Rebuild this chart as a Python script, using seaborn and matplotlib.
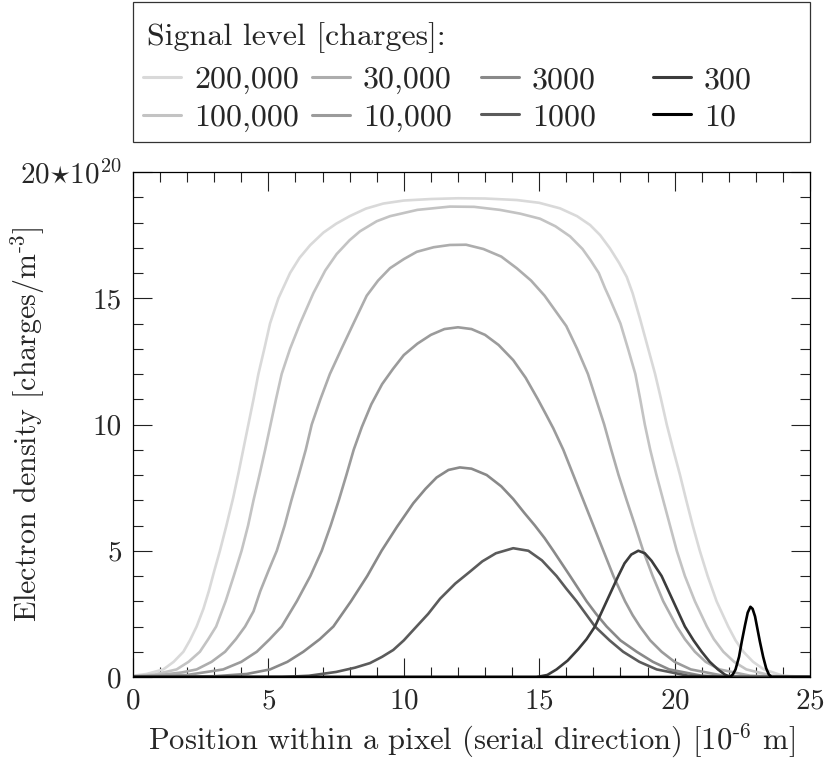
import pandas as pd
import matplotlib.pyplot as plt
import seaborn as sns
from matplotlib.patches import Rectangle
from matplotlib.ticker import MultipleLocator

# signal levels (legend order) and their grey shades
levels = ["200,000", "100,000", "30,000", "10,000", "3000", "1000", "300", "10"]
colors = ["#d9d9d9", "#c3c3c3", "#adadad", "#9b9b9b", "#898989", "#5b5b5b", "#3c3c3c", "#000000"]

# position [1e-6 m] and electron density [1e20 charges/m^3]
x_200k = [0, 0.5, 1.12, 1.5, 1.86, 2.1, 2.35, 2.6, 2.8, 3.0, 3.21, 3.45, 3.7, 3.9, 4.07, 4.26, 4.45,
          4.63, 4.85, 5.06, 5.37, 5.8, 6.15, 6.54, 7.03, 7.5, 8.0, 8.6, 9.24, 10.0, 11.0, 12.0, 13.0,
          14.17, 15.0, 15.77, 16.4, 16.88, 17.25, 17.61, 17.95, 18.23, 18.45, 18.72, 19.0, 19.28, 19.5,
          19.71, 19.95, 20.2, 20.43, 20.67, 20.93, 21.22, 21.55, 21.98, 22.25, 22.54, 22.9, 23.3, 24.0, 25.0]
y_200k = [0.05, 0.12, 0.3, 0.6, 1.0, 1.45, 2.0, 2.7, 3.4, 4.2, 5.0, 6.0, 7.1, 8.1, 9.0, 10.0, 11.0,
          12.0, 13.0, 14.0, 15.0, 16.0, 16.6, 17.1, 17.6, 17.95, 18.25, 18.55, 18.75, 18.87, 18.93, 18.96, 18.95,
          18.89, 18.78, 18.56, 18.25, 17.9, 17.5, 16.98, 16.4, 15.85, 15.2, 14.2, 13.1, 12.0, 11.0,
          10.0, 9.0, 8.0, 7.0, 6.0, 5.0, 4.0, 3.0, 2.0, 1.45, 1.0, 0.6, 0.3, 0.05, 0.0]

x_100k = [0, 0.8, 1.61, 2.05, 2.47, 2.78, 3.07, 3.42, 3.72, 4.01, 4.25, 4.45, 4.67, 4.88, 5.08, 5.28,
          5.49, 5.8, 6.17, 6.66, 7.1, 7.52, 8.0, 8.38, 9.0, 9.49, 10.5, 11.7, 12.6, 13.55, 14.3, 15.03,
          15.6, 16.14, 16.6, 16.9, 17.2, 17.43, 17.6, 17.8, 18.0, 18.28, 18.55, 18.73, 18.9, 19.1, 19.33,
          19.58, 19.83, 20.08, 20.38, 20.75, 21.19, 21.45, 21.8, 22.2, 22.65, 23.6, 25.0]
y_100k = [0.04, 0.1, 0.3, 0.6, 1.0, 1.5, 2.0, 3.0, 4.0, 5.0, 6.0, 7.0, 8.0, 9.0, 10.0, 11.0,
          12.0, 13.0, 14.0, 15.2, 16.1, 16.75, 17.3, 17.65, 18.05, 18.25, 18.5, 18.63, 18.62, 18.5, 18.35, 18.15,
          17.85, 17.45, 16.95, 16.5, 16.0, 15.4, 15.0, 14.5, 14.0, 13.0, 12.0, 11.0, 10.0, 9.0, 8.0,
          7.0, 6.0, 5.0, 4.0, 3.0, 2.0, 1.5, 1.0, 0.6, 0.3, 0.05, 0.0]

x_30k = [0, 1.0, 1.8, 2.35, 2.9, 3.4, 3.8, 4.14, 4.45, 4.7, 5.0, 5.31, 5.6, 5.85, 6.12, 6.38, 6.6,
         6.92, 7.27, 7.7, 8.14, 8.63, 9.05, 9.49, 10.0, 10.48, 11.1, 11.7, 12.3, 12.94, 13.6, 14.17,
         14.7, 15.2, 15.6, 16.0, 16.4, 16.8, 17.1, 17.4, 17.66, 17.93, 18.23, 18.54, 18.84, 19.19,
         19.58, 20.08, 20.38, 20.75, 21.15, 21.66, 22.8, 25.0]
y_30k = [0.02, 0.08, 0.18, 0.3, 0.6, 1.0, 1.5, 2.0, 2.6, 3.4, 4.2, 5.0, 6.0, 7.0, 8.0, 9.0, 10.0,
         11.0, 12.0, 13.0, 14.0, 15.1, 15.7, 16.19, 16.55, 16.84, 17.02, 17.11, 17.12, 16.95, 16.65, 16.19,
         15.7, 15.1, 14.5, 13.9, 13.0, 12.0, 11.0, 10.0, 9.0, 8.0, 7.0, 6.0, 5.0, 4.0,
         3.0, 2.0, 1.5, 1.0, 0.6, 0.3, 0.05, 0.0]

x_10k = [0, 2.0, 3.33, 4.0, 4.57, 5.05, 5.49, 6.05, 6.55, 6.97, 7.3, 7.6, 7.88, 8.15, 8.45, 8.8,
         9.2, 9.6, 10.0, 10.5, 11.0, 11.5, 12.0, 12.5, 13.0, 13.5, 14.04, 14.5, 14.95, 15.25, 15.52, 15.89,
         16.26, 16.63, 17.0, 17.37, 17.74, 18.17, 18.45, 18.72, 19.1, 19.52, 20.0, 20.6, 21.8, 23.5, 25.0]
y_10k = [0.01, 0.08, 0.3, 0.6, 1.0, 1.5, 2.0, 3.0, 4.0, 5.0, 6.0, 7.0, 8.0, 9.0, 9.9, 10.8,
         11.6, 12.2, 12.75, 13.2, 13.55, 13.78, 13.85, 13.78, 13.55, 13.15, 12.55, 11.85, 11.0, 10.4, 9.85, 9.0,
         8.0, 7.0, 6.0, 5.0, 4.0, 3.0, 2.45, 2.0, 1.45, 1.0, 0.6, 0.3, 0.05, 0.0, 0.0]

x_3000 = [0, 3.0, 4.2, 5.06, 5.7, 6.29, 6.9, 7.4, 8.05, 8.65, 9.18, 9.75, 10.35, 10.8, 11.21, 11.65,
          12.07, 12.5, 13.06, 13.6, 14.04, 14.45, 14.84, 15.2, 15.52, 16.14, 16.75, 17.1, 17.49, 18.0,
          18.6, 19.2, 19.8, 21.0, 22.5, 25.0]
y_3000 = [0.0, 0.03, 0.12, 0.3, 0.6, 1.0, 1.5, 2.0, 3.0, 4.0, 5.0, 5.95, 6.88, 7.45, 7.9, 8.2,
          8.3, 8.25, 8.0, 7.55, 7.05, 6.5, 6.0, 5.5, 5.0, 4.0, 3.0, 2.5, 2.0, 1.45,
          1.0, 0.6, 0.3, 0.05, 0.0, 0.0]

x_1000 = [0, 5.5, 6.5, 7.5, 8.2, 8.75, 9.2, 9.61, 10.0, 10.35, 10.9, 11.34, 11.9, 12.44, 12.9, 13.4,
          14.04, 14.6, 15.1, 15.64, 16.0, 16.38, 17.06, 17.6, 18.1, 18.7, 19.34, 20.5, 22.0, 25.0]
y_1000 = [0.0, 0.0, 0.05, 0.2, 0.37, 0.55, 0.8, 1.07, 1.45, 1.86, 2.5, 3.1, 3.7, 4.17, 4.58, 4.9,
          5.1, 5.0, 4.62, 4.0, 3.5, 3.0, 2.0, 1.45, 1.0, 0.6, 0.3, 0.05, 0.0, 0.0]

x_300 = [0, 14.9, 15.3, 15.64, 16.05, 16.44, 16.75, 17.06, 17.49, 17.92, 18.15, 18.4, 18.66, 18.9,
         19.15, 19.52, 19.95, 20.38, 20.7, 21.0, 21.3, 21.6, 21.85, 22.05, 25.0]
y_300 = [0.0, 0.0, 0.08, 0.3, 0.65, 1.1, 1.5, 2.0, 3.0, 4.0, 4.5, 4.85, 5.0, 4.9,
         4.6, 4.0, 3.0, 2.0, 1.45, 1.0, 0.6, 0.3, 0.1, 0.0, 0.0]

x_10 = [0, 22.05, 22.15, 22.25, 22.38, 22.48, 22.6, 22.7, 22.8, 22.88, 22.97, 23.06, 23.15, 23.27,
        23.38, 23.48, 23.58, 25.0]
y_10 = [0.0, 0.0, 0.1, 0.3, 0.8, 1.4, 2.05, 2.55, 2.78, 2.7, 2.4, 1.9, 1.4, 0.8,
        0.35, 0.1, 0.0, 0.0]

xs = [x_200k, x_100k, x_30k, x_10k, x_3000, x_1000, x_300, x_10]
ys = [y_200k, y_100k, y_30k, y_10k, y_3000, y_1000, y_300, y_10]

frames = []
for lvl, xv, yv in zip(levels, xs, ys):
    frames.append(pd.DataFrame({"x": xv, "y": yv, "level": lvl}))
df = pd.concat(frames, ignore_index=True)

sns.set_style("ticks")
plt.rcParams["font.family"] = ["cmr10", "DejaVu Serif"]
plt.rcParams["mathtext.fontset"] = "cm"
plt.rcParams["axes.unicode_minus"] = False
plt.rcParams["axes.formatter.use_mathtext"] = True

W, H = 828, 769
fig = plt.figure(figsize=(W / 100, H / 100), dpi=100)
ax = fig.add_axes([133 / W, 1 - 677 / H, 677 / W, 505 / H])

sns.lineplot(data=df, x="x", y="y", hue="level", hue_order=levels, palette=colors,
             estimator=None, sort=False, linewidth=1.9, ax=ax)

handles, labels = ax.get_legend_handles_labels()
ax.get_legend().remove()

ax.set_xlim(0, 25)
ax.set_ylim(0, 20)
ax.xaxis.set_major_locator(MultipleLocator(5))
ax.xaxis.set_minor_locator(MultipleLocator(1))
ax.yaxis.set_minor_locator(MultipleLocator(1))
ax.set_yticks([0, 5, 10, 15, 20])
ax.set_yticklabels(["0", "5", "10", "15", r"20$\star$10$^{20}$"])
ax.tick_params(which="both", direction="in", top=True, right=True, labelsize=21, width=0.8, color="#222222")
ax.tick_params(which="major", length=14, pad=8)
ax.tick_params(which="minor", length=7)
for s in ax.spines.values():
    s.set_linewidth(0.9)
    s.set_color("black")

ax.set_xlabel(r"Position within a pixel (serial direction) [10$^{\text{-6}}$ m]", fontsize=22)
ax.xaxis.set_label_coords(0.5, -0.088)
ax.set_ylabel(r"Electron density [charges/m$^{\text{-3}}$]", fontsize=21.5)
ax.yaxis.set_label_coords(-0.127, 0.5)

# legend box above the axes: frame, title and four columns of entries
fig.patches.append(Rectangle((133 / W, 1 - 142 / H), 677 / W, 140 / H, transform=fig.transFigure,
                             fill=False, edgecolor="#333333", linewidth=0.9))
fig.text(147 / W, 1 - 38 / H, "Signal level [charges]:", fontsize=23, ha="left", va="center")
col_x = [143, 312, 481, 653]
for i, cx in enumerate(col_x):
    leg = fig.legend(handles[2 * i:2 * i + 2], labels[2 * i:2 * i + 2], loc="upper left",
                     bbox_to_anchor=(cx / W, 1 - 66 / H), frameon=False, fontsize=23,
                     handlelength=1.2, handletextpad=0.4, labelspacing=0.28, borderpad=0,
                     borderaxespad=0)
    for line in leg.get_lines():
        line.set_linewidth(2.2)

plt.savefig("out.png", dpi=100)
